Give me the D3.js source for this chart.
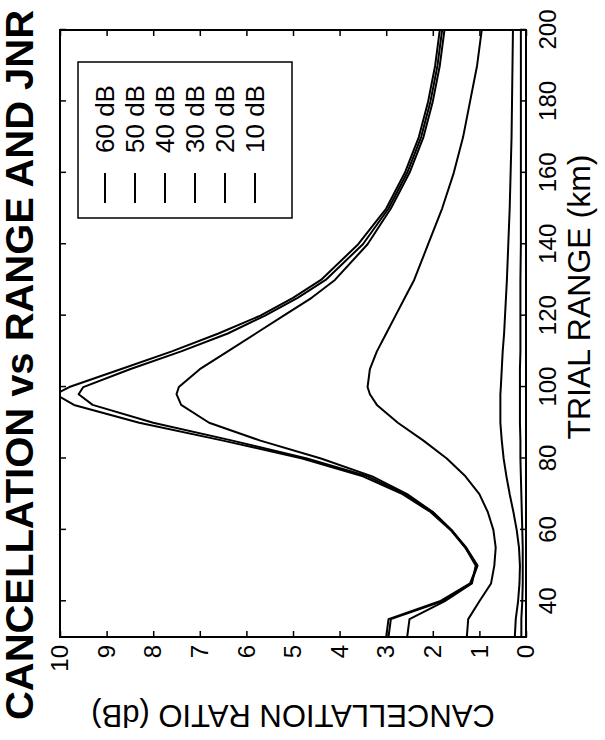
<!DOCTYPE html>
<html><head><meta charset="utf-8">
<script src="https://cdn.jsdelivr.net/npm/d3@7"></script>
<style>body{margin:0;background:#fff}svg{display:block}</style>
</head><body><svg id="c" width="605" height="740"></svg>
<script>
const ranges = [30, 35, 40, 45, 50, 55, 60, 65, 70, 75, 80, 85, 90, 95, 98, 100, 105, 110, 115, 120, 125, 130, 140, 150, 160, 170, 180, 190, 200];
const jnr60 = [3.0, 2.95, 1.85, 1.2, 1.05, 1.3, 1.62, 2.05, 2.65, 3.5, 4.8, 6.5, 8.3, 9.7, 10.1, 9.8, 8.7, 7.6, 6.6, 5.7, 5.0, 4.4, 3.6, 3.0, 2.6, 2.3, 2.1, 1.95, 1.85];
const jnr50 = [2.95, 2.9, 1.8, 1.18, 1.04, 1.28, 1.6, 2.0, 2.6, 3.4, 4.7, 6.3, 8.0, 9.3, 9.6, 9.5, 8.5, 7.4, 6.4, 5.6, 4.9, 4.3, 3.5, 2.95, 2.55, 2.25, 2.05, 1.9, 1.8];
const jnr40 = [2.55, 2.5, 1.75, 1.16, 1.08, 1.3, 1.6, 2.0, 2.55, 3.3, 4.4, 5.7, 6.8, 7.4, 7.5, 7.45, 7.0, 6.4, 5.8, 5.2, 4.6, 4.1, 3.4, 2.9, 2.5, 2.2, 2.0, 1.85, 1.75];
const jnr30 = [1.27, 1.24, 1.0, 0.75, 0.68, 0.65, 0.7, 0.82, 1.0, 1.3, 1.7, 2.2, 2.75, 3.2, 3.35, 3.4, 3.35, 3.2, 3.0, 2.8, 2.6, 2.4, 2.1, 1.8, 1.55, 1.35, 1.2, 1.05, 0.95];
const jnr20 = [0.24, 0.22, 0.17, 0.14, 0.13, 0.15, 0.2, 0.27, 0.35, 0.42, 0.48, 0.52, 0.55, 0.55, 0.55, 0.54, 0.52, 0.5, 0.47, 0.45, 0.43, 0.41, 0.38, 0.35, 0.33, 0.31, 0.3, 0.29, 0.28];
const jnr10 = [0.1, 0.1, 0.08, 0.07, 0.07, 0.07, 0.08, 0.09, 0.1, 0.11, 0.12, 0.12, 0.13, 0.13, 0.13, 0.13, 0.13, 0.12, 0.12, 0.12, 0.12, 0.12, 0.11, 0.11, 0.11, 0.11, 0.11, 0.11, 0.11];
const seriesNames = ["60 dB", "50 dB", "40 dB", "30 dB", "20 dB", "10 dB"];
const seriesValues = [jnr60, jnr50, jnr40, jnr30, jnr20, jnr10];
const rangeTicks = [40, 60, 80, 100, 120, 140, 160, 180, 200];
const ratioTicks = [0, 1, 2, 3, 4, 5, 6, 7, 8, 9, 10];
const titleText = "CANCELLATION vs RANGE AND JNR";
const xLabel = "TRIAL RANGE (km)";
const yLabel = "CANCELLATION RATIO (dB)";

const FONT = "'Liberation Sans', Arial, Helvetica, sans-serif";
const svg = d3.select("#c");
// landscape chart rotated 90deg counter-clockwise
const W = 607, H = 466;
const g = svg.append("g").attr("transform", "translate(60,637) rotate(-90)");
const x = d3.scaleLinear().domain([30, 200]).range([0, W]);
const y = d3.scaleLinear().domain([0, 10]).range([H, 0]);

g.append("clipPath").attr("id", "clip").append("rect").attr("width", W).attr("height", H);

const line = d3.line().x((d, i) => x(ranges[i])).y(d => y(d));
g.append("g").attr("clip-path", "url(#clip)")
  .selectAll("path").data(seriesValues).join("path")
  .attr("d", d => line(d)).attr("fill", "none").attr("stroke", "#000")
  .attr("stroke-width", 2).attr("stroke-linejoin", "round");

// axes
const ax = g.append("g").attr("transform", `translate(0,${H})`)
  .call(d3.axisBottom(x).tickValues(rangeTicks).tickSizeInner(-6).tickSizeOuter(0).tickPadding(13));
const axT = g.append("g")
  .call(d3.axisTop(x).tickValues(rangeTicks).tickSizeInner(-6).tickSizeOuter(0).tickFormat(""));
const ay = g.append("g")
  .call(d3.axisLeft(y).tickValues(ratioTicks).tickSizeInner(-6).tickSizeOuter(0).tickPadding(8));
const ayR = g.append("g").attr("transform", `translate(${W},0)`)
  .call(d3.axisRight(y).tickValues(ratioTicks).tickSizeInner(-6).tickSizeOuter(0).tickFormat(""));
[ax, axT, ay, ayR].forEach(a => {
  a.select(".domain").remove();
  a.selectAll("line").attr("stroke", "#000").attr("stroke-width", 1.5);
  a.selectAll("text").attr("font-family", FONT).attr("font-size", 24).attr("fill", "#000");
});
g.append("rect").attr("width", W).attr("height", H).attr("fill", "none")
  .attr("stroke", "#000").attr("stroke-width", 2);

// labels
g.append("text").attr("x", 340).attr("y", 530).attr("text-anchor", "middle")
  .attr("font-family", FONT).attr("font-size", 32).text(xLabel);
g.append("text").attr("transform", `translate(-68,${H / 2}) rotate(-90)`).attr("text-anchor", "middle")
  .attr("font-family", FONT).attr("font-size", 31).text(yLabel);
g.append("text").attr("x", -83).attr("y", -27).attr("font-family", FONT).attr("font-weight", "bold")
  .attr("font-size", 38).attr("textLength", 710).attr("lengthAdjust", "spacingAndGlyphs").text(titleText);

// legend
const lg = g.append("g");
lg.append("rect").attr("x", 419).attr("y", 18).attr("width", 156).attr("height", 214)
  .attr("fill", "#fff").attr("stroke", "#000").attr("stroke-width", 1.5);
seriesNames.forEach((name, i) => {
  const yy = 45 + i * 30;
  lg.append("line").attr("x1", 434).attr("x2", 464).attr("y1", yy).attr("y2", yy)
    .attr("stroke", "#000").attr("stroke-width", 2);
  lg.append("text").attr("x", 484).attr("y", yy).attr("dy", "0.36em")
    .attr("font-family", FONT).attr("font-size", 26).text(name);
});
</script></body></html>
